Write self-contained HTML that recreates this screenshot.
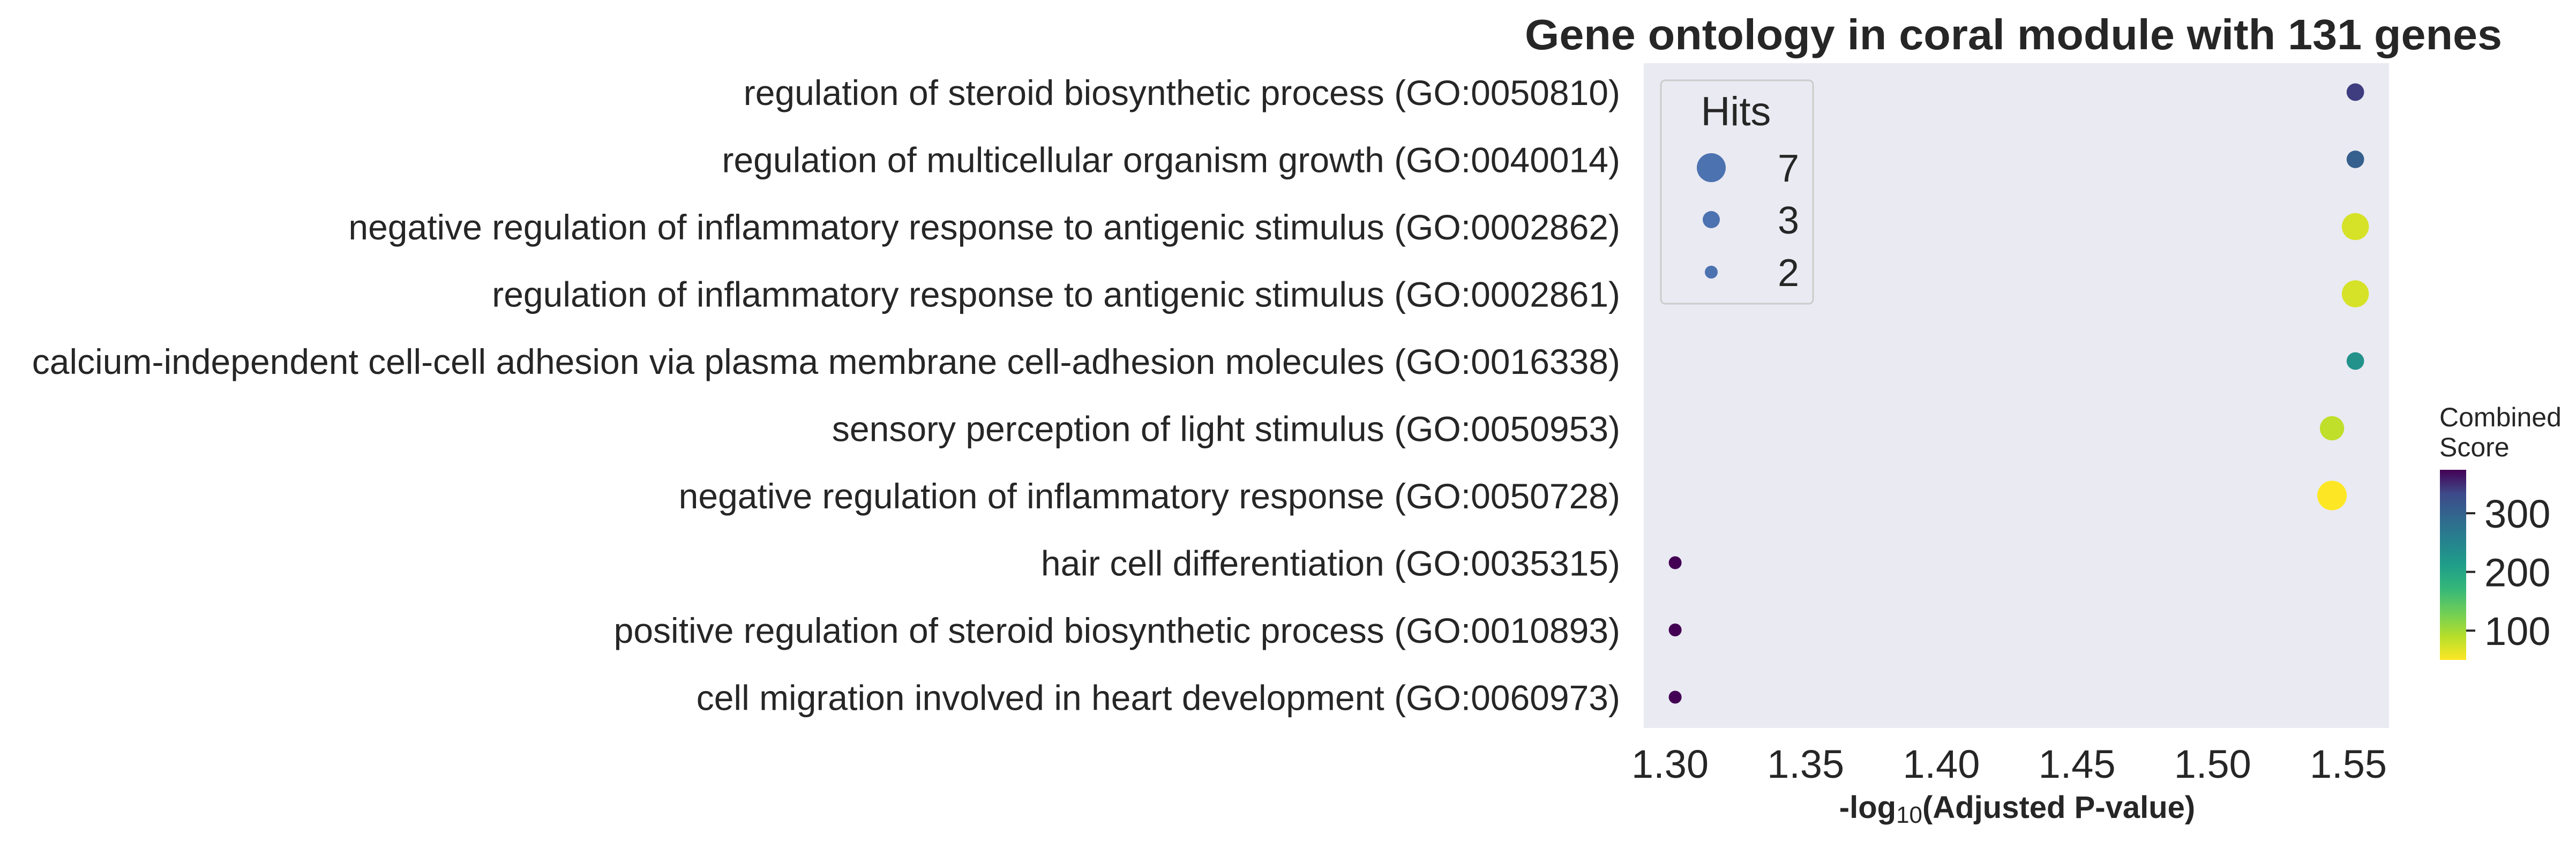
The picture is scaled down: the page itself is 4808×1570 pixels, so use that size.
<!DOCTYPE html>
<html><head><meta charset="utf-8"><style>
html,body{margin:0;padding:0;background:#fff;}
svg{display:block;font-family:"Liberation Sans",Arial,sans-serif;}
</style></head><body>
<svg id="chart" width="4808" height="1570" viewBox="0 0 4808 1570" xmlns="http://www.w3.org/2000/svg">
<text x="2846" y="92" font-size="80" font-weight="bold" fill="#262626" textLength="1824" lengthAdjust="spacingAndGlyphs">Gene ontology in coral module with 131 genes</text>
<rect x="3068" y="118" width="1391" height="1241" fill="#eaeaf2"/>
<g id="ylabels"></g>
<g id="xticks"></g>
<g id="dots"></g>
<text x="3765" y="1527" font-size="58" font-weight="bold" fill="#262626" text-anchor="middle">-log<tspan font-weight="normal" font-size="44" dy="9">10</tspan><tspan dy="-9">(Adjusted P-value)</tspan></text>
<g>
<rect x="3100" y="150" width="284" height="417" rx="8" fill="#eaeaf2" stroke="#cccccc" stroke-width="3"/>
<text x="3240" y="234" font-size="76" fill="#262626" text-anchor="middle">Hits</text>
<g id="legend"></g>
</g>
<g>
<text x="4553" y="796" font-size="50" fill="#262626">Combined</text>
<text x="4553" y="852" font-size="50" fill="#262626">Score</text>
<defs><linearGradient id="vir" x1="0" y1="1" x2="0" y2="0">
<stop offset="0" stop-color="#fde725"/><stop offset="0.125" stop-color="#b5de2b"/><stop offset="0.25" stop-color="#6ece58"/><stop offset="0.375" stop-color="#35b779"/><stop offset="0.5" stop-color="#1f9e89"/><stop offset="0.625" stop-color="#26828e"/><stop offset="0.75" stop-color="#31688e"/><stop offset="0.875" stop-color="#3e4989"/><stop offset="1" stop-color="#440154"/>
</linearGradient></defs>
<rect x="4554" y="877" width="49" height="355" fill="url(#vir)"/>
<g id="cticks"></g>
</g>
</svg>
<script>
const terms=["regulation of steroid biosynthetic process (GO:0050810)","regulation of multicellular organism growth (GO:0040014)","negative regulation of inflammatory response to antigenic stimulus (GO:0002862)","regulation of inflammatory response to antigenic stimulus (GO:0002861)","calcium-independent cell-cell adhesion via plasma membrane cell-adhesion molecules (GO:0016338)","sensory perception of light stimulus (GO:0050953)","negative regulation of inflammatory response (GO:0050728)","hair cell differentiation (GO:0035315)","positive regulation of steroid biosynthetic process (GO:0010893)","cell migration involved in heart development (GO:0060973)"];
const pvals=[1.5526,1.5526,1.5526,1.5526,1.5526,1.544,1.544,1.3019,1.3019,1.3019];
const hits=[3,3,6,6,3,5,7,2,2,2];
const scores=[340,305,72,72,230,85,45,374,374,374];
const xTicks=[1.30,1.35,1.40,1.45,1.50,1.55];
const cTicks=[100,200,300];
const legendHits=[7,3,2];
const NS="http://www.w3.org/2000/svg";
const xs=v=>3117+(v-1.30)/0.05*253.2;
const ys=i=>172+i*125.5;
const rs=h=>Math.sqrt(Math.max(-102+123*h,40));
const cMin=50,cMax=374;
const cy=v=>1232-(v-cMin)/(cMax-cMin)*355;
const vir=[[253,231,37],[181,222,43],[110,206,88],[53,183,121],[31,158,137],[38,130,142],[49,104,142],[62,73,137],[68,1,84]];
function col(v){let t=(v-cMin)/(cMax-cMin);t=Math.max(0,Math.min(1,t))*8;const i=Math.min(7,Math.floor(t)),f=t-i;const a=vir[i],b=vir[i+1];return `rgb(${a.map((c,k)=>Math.round(c+(b[k]-c)*f)).join(',')})`;}
function mk(tag,at,p,txt){const e=document.createElementNS(NS,tag);for(const k in at)e.setAttribute(k,at[k]);if(txt!==undefined)e.textContent=txt;document.getElementById(p).appendChild(e);return e;}
terms.forEach((t,i)=>{
 const e=mk('text',{x:3024,y:ys(i)+24,'font-size':66,fill:'#262626','text-anchor':'end'},'ylabels',t);
 
 
 const c=mk('circle',{cx:xs(pvals[i]),cy:ys(i),r:rs(hits[i]),fill:col(scores[i])},'dots');
 
 
});
xTicks.forEach(v=>{
 const e=mk('text',{x:xs(v),y:1452,'font-size':74,fill:'#262626','text-anchor':'middle'},'xticks',v.toFixed(2));
 
 
});
legendHits.forEach((h,i)=>{
 const y=[313,410,508][i];
 const c=mk('circle',{cx:3194,cy:y,r:[27,16,12][i],fill:'#4c72b0'},'legend');
 
 
 const t=mk('text',{x:3358,y:y+26,'font-size':72,fill:'#262626','text-anchor':'end'},'legend',h);
 
 
});
cTicks.forEach(v=>{
 const l=mk('line',{x1:4603,x2:4620,y1:cy(v),y2:cy(v),stroke:'#262626','stroke-width':4},'cticks');
 
 
 const t=mk('text',{x:4637,y:cy(v)+27,'font-size':74,fill:'#262626'},'cticks',v);
 
 
});
</script>
</body></html>
